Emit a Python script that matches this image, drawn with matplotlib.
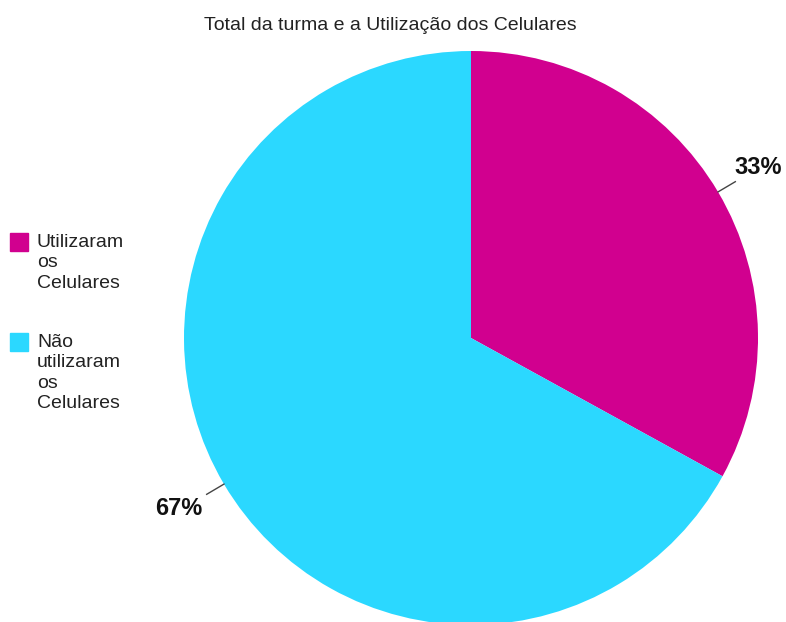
import numpy as np
import matplotlib.pyplot as plt
from matplotlib.patches import Rectangle

plt.rcParams['font.family'] = ['Liberation Sans', 'DejaVu Sans']

categories = ['Utilizaram\nos\nCelulares', 'Não\nutilizaram\nos\nCelulares']
shares = [33, 67]
colors = ['#D1008F', '#2BD8FF']
title = 'Total da turma e a Utilização dos Celulares'

W, H = 786, 622
fig = plt.figure(figsize=(W / 100, H / 100), dpi=100)

# pie centre (471, 338) px, radius 287 px
cx, cy, r = 471, 338, 287
ax = fig.add_axes([(cx - r) / W, (H - cy - r) / H, 2 * r / W, 2 * r / H])
wedges, _ = ax.pie(shares, colors=colors, startangle=90, counterclock=False,
                   radius=1, wedgeprops=dict(linewidth=0))
ax.set_xlim(-1, 1)
ax.set_ylim(-1, 1)
ax.set_aspect('equal')
ax.axis('off')

# percentage labels with short leader lines
for w, val in zip(wedges, shares):
    mid = np.deg2rad((w.theta1 + w.theta2) / 2)
    c, s = np.cos(mid), np.sin(mid)
    ax.plot([1.0 * c, 1.07 * c], [1.0 * s, 1.07 * s], color='#444444', lw=1,
            clip_on=False)
    gap = 0.058 if c > 0 else -0.075
    ax.text(c + gap, 1.17 * s, f'{val}%',
            ha='left' if c > 0 else 'right', va='center',
            fontsize=17, fontweight='bold', color='#111111', clip_on=False)

fig.text(390 / W, 1 - 25 / H, title, ha='center', va='center', fontsize=14,
         color='#222222')

# legend, drawn by hand
y_top = 233
for lab, col in zip(categories, colors):
    fig.patches.append(Rectangle((10 / W, 1 - (y_top + 18) / H), 18 / W, 18 / H,
                                 transform=fig.transFigure, color=col))
    fig.text(37 / W, 1 - (y_top + 1) / H, lab, ha='left', va='top',
             fontsize=14, color='#222222', linespacing=1.25)
    y_top += 100

fig.savefig('out.png', dpi=100)
